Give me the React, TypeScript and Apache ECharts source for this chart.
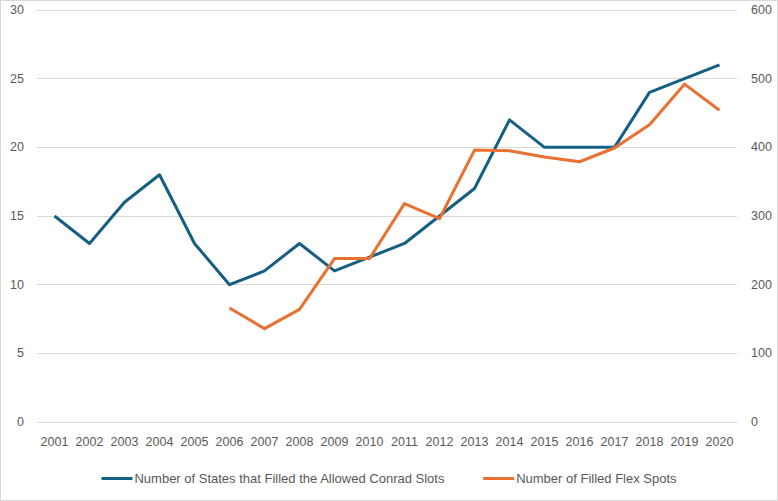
import React, { useEffect, useRef } from "react";
import * as echarts from "echarts";

const years = ["2001","2002","2003","2004","2005","2006","2007","2008","2009","2010","2011","2012","2013","2014","2015","2016","2017","2018","2019","2020"];
const statesFilled = [15, 13, 16, 18, 13, 10, 11, 13, 11, 12, 13, 15, 17, 22, 20, 20, 20, 24, 25, 26];
const flexSpots: (number | null)[] = [null, null, null, null, null, 166, 136, 164, 238, 238, 318, 296, 396, 395, 386, 379, 399, 433, 492, 454];
const seriesNames = ["Number of States that Filled the Allowed Conrad Slots", "Number of Filled Flex Spots"];

export default function App() {
  const ref = useRef<HTMLDivElement>(null);
  useEffect(() => {
    if (!ref.current) return;
    const chart = echarts.init(ref.current, null, { renderer: "svg" });
    const font = { color: "#595959", fontSize: 12.5, fontFamily: "Liberation Sans, Arial, sans-serif" };
    chart.setOption({
      animation: false,
      grid: { left: 36, right: 40, top: 9, bottom: 78, containLabel: false },
      legend: {
        bottom: 10,
        left: "center",
        icon: "rect",
        itemWidth: 31,
        itemHeight: 3,
        itemGap: 38,
        textStyle: { ...font, fontSize: 13, padding: [0, 0, 0, -3] },
        data: seriesNames,
      },
      xAxis: {
        type: "category",
        data: years,
        boundaryGap: true,
        axisLine: { show: true, lineStyle: { color: "#d9d9d9", width: 1 } },
        axisTick: { show: false },
        axisLabel: { ...font, margin: 13, interval: 0 },
      },
      yAxis: [
        {
          type: "value",
          min: 0,
          max: 30,
          interval: 5,
          axisLine: { show: false },
          axisTick: { show: false },
          axisLabel: { ...font, margin: 13 },
          splitLine: { lineStyle: { color: "#d9d9d9", width: 1 } },
        },
        {
          type: "value",
          min: 0,
          max: 600,
          interval: 100,
          position: "right",
          axisLine: { show: false },
          axisTick: { show: false },
          axisLabel: { ...font, margin: 14 },
          splitLine: { show: false },
        },
      ],
      series: [
        {
          name: seriesNames[0],
          type: "line",
          data: statesFilled,
          yAxisIndex: 0,
          showSymbol: false,
          symbol: "none",
          lineStyle: { color: "#156082", width: 3, join: "round" },
          itemStyle: { color: "#156082" },
        },
        {
          name: seriesNames[1],
          type: "line",
          data: flexSpots,
          yAxisIndex: 1,
          showSymbol: false,
          symbol: "none",
          lineStyle: { color: "#E97132", width: 3, join: "round" },
          itemStyle: { color: "#E97132" },
        },
      ],
    });
    return () => chart.dispose();
  }, []);
  return (
    <div
      style={{
        position: "fixed",
        left: 0,
        top: 0,
        width: 778,
        height: 501,
        background: "#fff",
        boxSizing: "border-box",
        border: "1px solid #d9d9d9",
      }}
    >
      <div ref={ref} style={{ width: 776, height: 499 }} />
    </div>
  );
}
